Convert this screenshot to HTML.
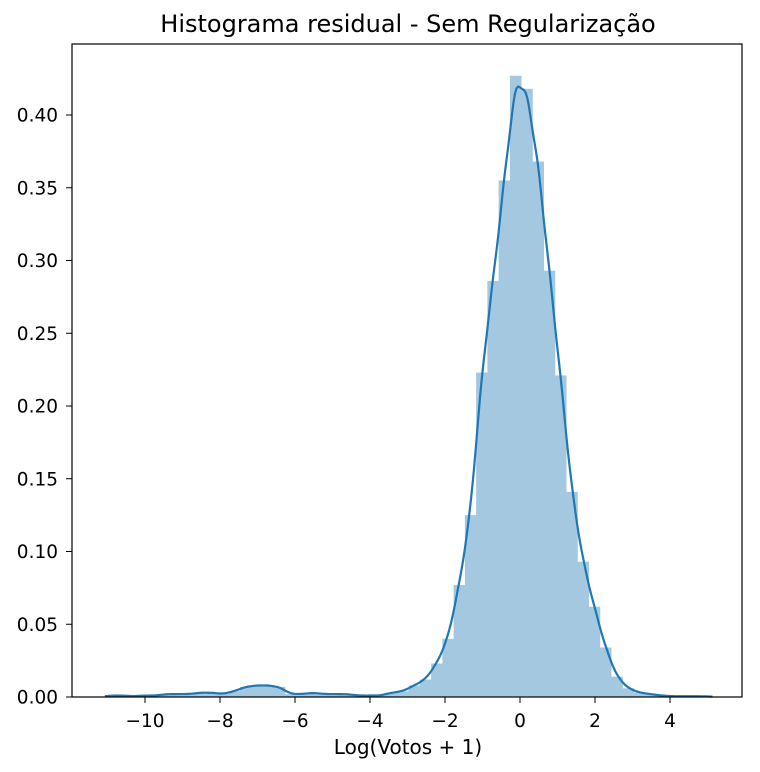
<!DOCTYPE html>
<html><head><meta charset="utf-8"><style>
html,body{margin:0;padding:0;background:#fff;}
svg{display:block;font-family:"DejaVu Sans","Liberation Sans",sans-serif;}
</style></head><body>
<svg id="chart" width="760" height="772">
<text x="408" y="32" text-anchor="middle" font-size="24" fill="#000">Histograma residual - Sem Regularização</text>
<g id="bars"></g>
<path id="kde" fill="none" stroke="#1f77b4" stroke-width="2.2"></path>
<rect x="72" y="44" width="670" height="653" fill="none" stroke="#000" stroke-width="1.2"></rect>
<g id="xticks"></g>
<g id="yticks"></g>
<text x="408" y="754" text-anchor="middle" font-size="20">Log(Votos + 1)</text>
</svg>
<script>
const binStart = -11.07;
const binWidth = 0.3;
const binValues = [0.001,0.001,0.0005,0.001,0.001,0.002,0.002,0.002,0.003,0.003,
0.002,0.004,0.007,0.008,0.008,0.007,0.002,0.002,0.003,0.002,
0.002,0.002,0.001,0.001,0.001,0.003,0.004,0.008,0.012,0.023,
0.040,0.077,0.125,0.223,0.286,0.355,0.427,0.418,0.368,0.293,
0.221,0.141,0.093,0.062,0.034,0.014,0.006,0.003,0.002,0.001,
0.0005,0.0005,0.0005,0.0005];
const xTickValues = [-10,-8,-6,-4,-2,0,2,4];
const xTickLabels = ["\u221210","\u22128","\u22126","\u22124","\u22122","0","2","4"];
const yTickValues = [0,0.05,0.10,0.15,0.20,0.25,0.30,0.35,0.40];
const yTickLabels = ["0.00","0.05","0.10","0.15","0.20","0.25","0.30","0.35","0.40"];

const NS="http://www.w3.org/2000/svg";
function xs(v){return 520+v*37.5;}
function ys(v){return 697-v*1455;}

const bars=document.getElementById('bars');
binValues.forEach((v,i)=>{
  const x0=binStart+i*binWidth;
  const r=document.createElementNS(NS,'rect');
  r.setAttribute('x',xs(x0));
  r.setAttribute('width',binWidth*37.5+0.4);
  r.setAttribute('y',ys(v));
  r.setAttribute('height',697-ys(v));
  r.setAttribute('fill','#a5c8e1');
  
  
  bars.appendChild(r);
});

const bw=0.17;
const lo=binStart, hi=binStart+binValues.length*binWidth;
let d='';
for(let i=0;i<=400;i++){
  const x=lo+(hi-lo)*i/400;
  let s=0;
  binValues.forEach((v,j)=>{
    const c=binStart+(j+0.5)*binWidth;
    s+=v*binWidth*Math.exp(-0.5*((x-c)/bw)**2)/(bw*Math.sqrt(2*Math.PI));
  });
  d+=(i?'L':'M')+xs(x).toFixed(2)+','+ys(s).toFixed(2);
}
document.getElementById('kde').setAttribute('d',d);

const xt=document.getElementById('xticks');
xTickValues.forEach((v,i)=>{
  const l=document.createElementNS(NS,'line');
  l.setAttribute('x1',xs(v));l.setAttribute('x2',xs(v));
  l.setAttribute('y1',697);l.setAttribute('y2',703);
  l.setAttribute('stroke','#000');
  
  
  xt.appendChild(l);
  const t=document.createElementNS(NS,'text');
  t.setAttribute('x',xs(v));t.setAttribute('y',727);
  t.setAttribute('text-anchor','middle');t.setAttribute('font-size','18.5');
  t.textContent=xTickLabels[i];
  
  
  xt.appendChild(t);
});
const yt=document.getElementById('yticks');
yTickValues.forEach((v,i)=>{
  const l=document.createElementNS(NS,'line');
  l.setAttribute('x1',66);l.setAttribute('x2',72);
  l.setAttribute('y1',ys(v));l.setAttribute('y2',ys(v));
  l.setAttribute('stroke','#000');
  
  
  yt.appendChild(l);
  const t=document.createElementNS(NS,'text');
  t.setAttribute('x',58);t.setAttribute('y',ys(v)+6.5);
  t.setAttribute('text-anchor','end');t.setAttribute('font-size','18.5');
  t.textContent=yTickLabels[i];
  
  
  yt.appendChild(t);
});
</script>
</body></html>
